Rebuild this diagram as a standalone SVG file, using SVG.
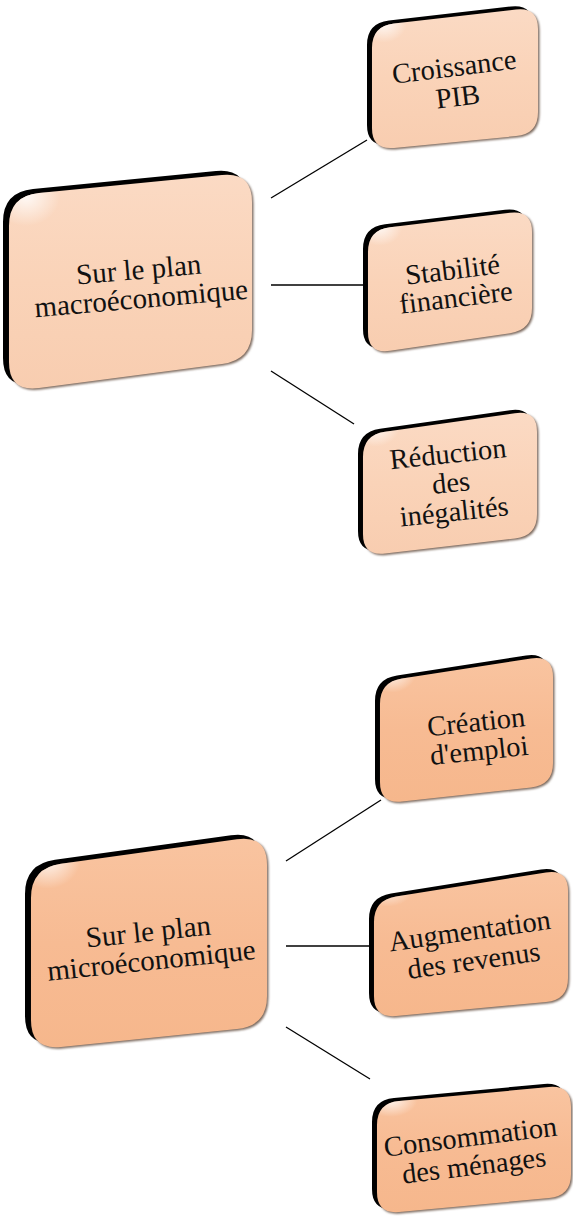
<svg xmlns="http://www.w3.org/2000/svg" xmlns:xlink="http://www.w3.org/1999/xlink" width="573" height="1220" viewBox="0 0 573 1220">
  <style>
    .side { fill: #000; }
    .shade { fill: #7d6a5e; filter: url(#soft); }
    .macro { fill: url(#peachLight); }
    .micro { fill: url(#peachDeep); }
    .glare { fill: url(#glare); }
    .label { font-family: "Liberation Serif", "Times New Roman", "DejaVu Serif", serif; fill: #111; text-anchor: middle; }
    .big { font-size: 29px; }
    .mid { font-size: 28.5px; }
    .links line { stroke: #000; stroke-width: 1.3; }
  </style>
  <defs>
    <linearGradient id="peachLight" x1="0" y1="0" x2="0" y2="1">
      <stop offset="0" stop-color="#fbdac4"/>
      <stop offset="0.5" stop-color="#fad3b8"/>
      <stop offset="1" stop-color="#f8cdb0"/>
    </linearGradient>
    <linearGradient id="peachDeep" x1="0" y1="0" x2="0" y2="1">
      <stop offset="0" stop-color="#f9c4a0"/>
      <stop offset="0.5" stop-color="#f7bb93"/>
      <stop offset="1" stop-color="#f6b78c"/>
    </linearGradient>
    <radialGradient id="glare" cx="0.07" cy="0.1" r="0.14">
      <stop offset="0" stop-color="#fff" stop-opacity="0.85"/>
      <stop offset="1" stop-color="#fff" stop-opacity="0"/>
    </radialGradient>
    <filter id="soft" x="-5%" y="-5%" width="110%" height="110%">
      <feGaussianBlur stdDeviation="0.9"/>
    </filter>
    <!-- box outlines: trapezoids with rounded corners (left edge taller) -->
    <path id="boxA" d="M9,226 Q9,196 39,193 L222,175 Q252,172 252,202 L252,330 Q252,360 222,364 L39,388 Q9,392 9,362 Z"/>
    <path id="boxB" d="M372,48 Q372,26 394,23.5 L516,9.5 Q538,7 538,29 L538,112 Q538,134 516,136.1 L394,147.9 Q372,150 372,128 Z"/>
    <path id="boxC" d="M368,252 Q368,230 390,227.3 L510,212.7 Q532,210 532,232 L532,308 Q532,330 510,333.2 L390,350.8 Q368,354 368,332 Z"/>
    <path id="boxD" d="M363,457 Q363,435 385,431.8 L515,413.2 Q537,410 537,432 L537,514 Q537,536 515,538.5 L385,553.5 Q363,556 363,534 Z"/>
    <path id="boxE" d="M31,898 Q31,868 61,863.8 L237,839.2 Q267,835 267,865 L267,996 Q267,1026 237,1029.1 L61,1046.9 Q31,1050 31,1020 Z"/>
    <path id="boxF" d="M380,704 Q380,682 402,678.6 L531,658.4 Q553,655 553,677 L553,763 Q553,785 531,787.4 L402,801.6 Q380,804 380,782 Z"/>
    <path id="boxG" d="M374,922 Q374,900 396,896.5 L546,872.5 Q568,869 568,891 L568,978 Q568,1000 546,1002 L396,1016 Q374,1018 374,996 Z"/>
    <path id="boxH" d="M377,1125 Q377,1103 399,1101 L549,1087 Q571,1085 571,1107 L571,1174 Q571,1196 549,1198 L399,1212 Q377,1214 377,1192 Z"/>
  </defs>

  <g class="links">
    <line x1="271" y1="198" x2="367" y2="140"/>
    <line x1="271" y1="285" x2="363" y2="285"/>
    <line x1="271" y1="371" x2="354" y2="424"/>
    <line x1="286" y1="861" x2="381" y2="800"/>
    <line x1="286" y1="946" x2="369" y2="946"/>
    <line x1="286" y1="1027" x2="370" y2="1079"/>
  </g>

  <g id="macro">
    <use href="#boxA" class="side" transform="translate(-6,-4)"/>
    <use href="#boxA" class="shade" transform="translate(1.5,1.5)"/>
    <use href="#boxA" class="macro"/>
    <use href="#boxA" class="glare"/>
    <text class="label big" transform="rotate(-5 140 285)"><tspan x="140" y="279">Sur le plan</tspan><tspan x="140" y="308">macroéconomique</tspan></text>
  </g>

  <g id="croissance">
    <use href="#boxB" class="side" transform="translate(-5,-3)"/>
    <use href="#boxB" class="shade" transform="translate(1.5,1.5)"/>
    <use href="#boxB" class="macro"/>
    <use href="#boxB" class="glare"/>
    <text class="label mid" transform="rotate(-7 457 90)"><tspan x="457" y="76">Croissance</tspan><tspan x="457" y="106">PIB</tspan></text>
  </g>

  <g id="stabilite">
    <use href="#boxC" class="side" transform="translate(-5,-3)"/>
    <use href="#boxC" class="shade" transform="translate(1.5,1.5)"/>
    <use href="#boxC" class="macro"/>
    <use href="#boxC" class="glare"/>
    <text class="label mid" transform="rotate(-7 455 290)"><tspan x="455" y="279">Stabilité</tspan><tspan x="455" y="307">financière</tspan></text>
  </g>

  <g id="reduction">
    <use href="#boxD" class="side" transform="translate(-5,-3)"/>
    <use href="#boxD" class="shade" transform="translate(1.5,1.5)"/>
    <use href="#boxD" class="macro"/>
    <use href="#boxD" class="glare"/>
    <text class="label mid" transform="rotate(-6 452 492)"><tspan x="452" y="463">Réduction</tspan><tspan x="452" y="492">des</tspan><tspan x="452" y="521">inégalités</tspan></text>
  </g>

  <g id="micro">
    <use href="#boxE" class="side" transform="translate(-6,-4)"/>
    <use href="#boxE" class="shade" transform="translate(1.5,1.5)"/>
    <use href="#boxE" class="micro"/>
    <use href="#boxE" class="glare"/>
    <text class="label big" transform="rotate(-6 150 948)"><tspan x="150" y="941">Sur le plan</tspan><tspan x="150" y="970">microéconomique</tspan></text>
  </g>

  <g id="creation">
    <use href="#boxF" class="side" transform="translate(-5,-3)"/>
    <use href="#boxF" class="shade" transform="translate(1.5,1.5)"/>
    <use href="#boxF" class="micro"/>
    <use href="#boxF" class="glare"/>
    <text class="label mid" transform="rotate(-6 478 740)"><tspan x="478" y="731">Création</tspan><tspan x="478" y="760">d'emploi</tspan></text>
  </g>

  <g id="augmentation">
    <use href="#boxG" class="side" transform="translate(-5,-3)"/>
    <use href="#boxG" class="shade" transform="translate(1.5,1.5)"/>
    <use href="#boxG" class="micro"/>
    <use href="#boxG" class="glare"/>
    <text class="label mid" transform="rotate(-8 472 948)"><tspan x="472" y="940">Augmentation</tspan><tspan x="472" y="970">des revenus</tspan></text>
  </g>

  <g id="consommation">
    <use href="#boxH" class="side" transform="translate(-5,-3)"/>
    <use href="#boxH" class="shade" transform="translate(1.5,1.5)"/>
    <use href="#boxH" class="micro"/>
    <use href="#boxH" class="glare"/>
    <text class="label mid" transform="rotate(-7 472 1150)"><tspan x="472" y="1146">Consommation</tspan><tspan x="472" y="1175">des ménages</tspan></text>
  </g>
</svg>
